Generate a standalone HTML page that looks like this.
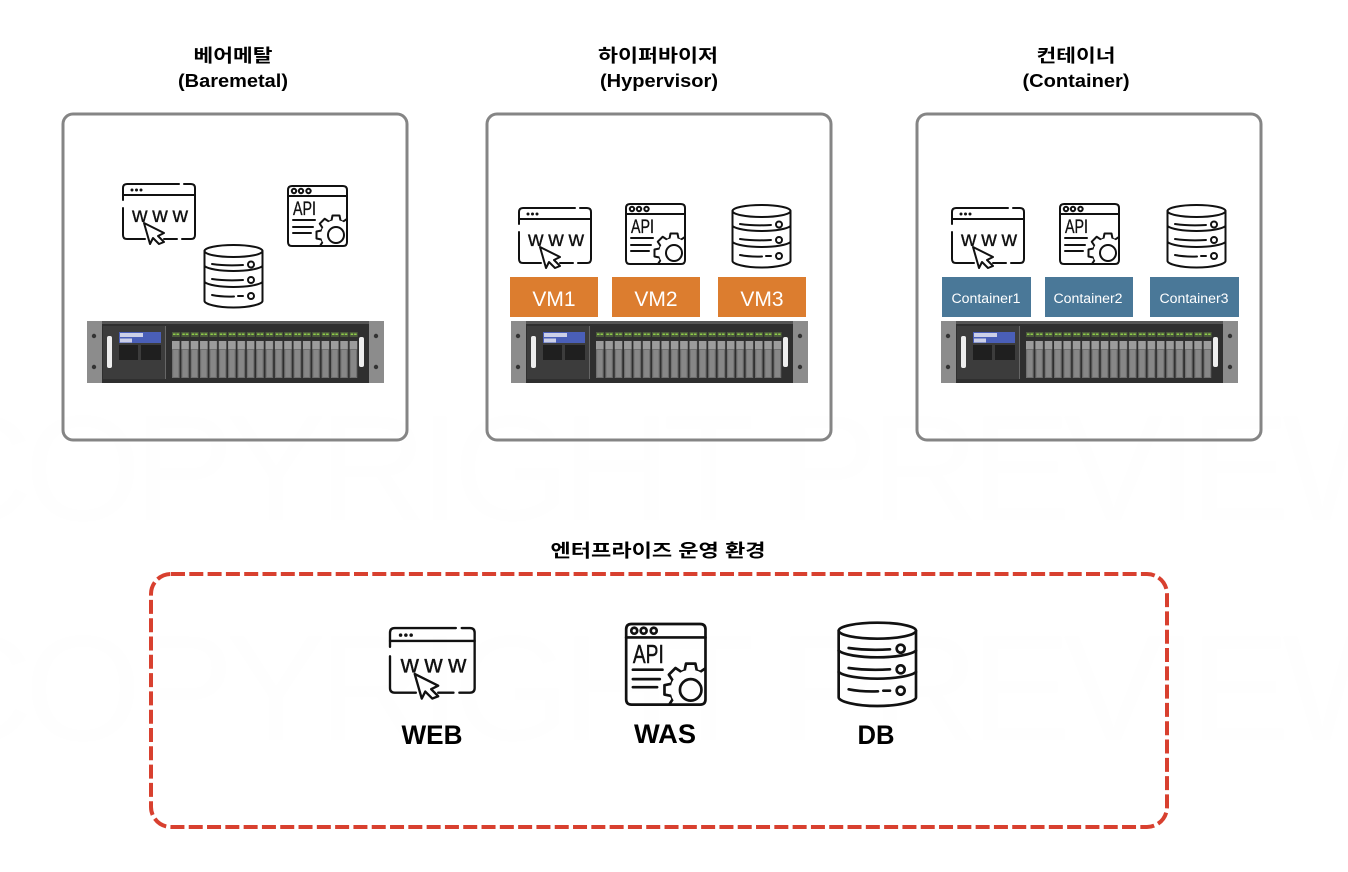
<!DOCTYPE html>
<html lang="ko">
<head>
<meta charset="utf-8">
<title>베어메탈, 하이퍼바이저, 컨테이너</title>
<style>
html,body{margin:0;padding:0;background:#fff}
svg{display:block}
text{font-family:"Liberation Sans","Noto Sans CJK KR",sans-serif}
.t{font-size:18px;font-weight:700;fill:#000;text-anchor:middle}
.b{font-size:27px;font-weight:700;fill:#000;text-anchor:middle}
.vm{font-size:21px;fill:#fff;text-anchor:middle}
.c{font-size:13.5px;fill:#fff;text-anchor:middle}
.wm{font-size:150px;font-weight:400;fill:#fefefe;text-anchor:middle}
</style>
</head>
<body>
<svg xmlns="http://www.w3.org/2000/svg" width="1348" height="872" viewBox="0 0 1348 872">
<defs>
<clipPath id="apiclip"><rect x="0" y="0" width="59" height="60" rx="4"/></clipPath>
<pattern id="drv" x="85" y="0" width="9.35" height="64" patternUnits="userSpaceOnUse">
  <rect x="0" y="11" width="8" height="5" fill="#4c5a3c"/>
  <rect x="1" y="12.5" width="2.5" height="1.5" fill="#8fce4a"/>
  <rect x="4.5" y="12.5" width="2.5" height="1.5" fill="#8fce4a"/>
  <rect x="0" y="20" width="7.6" height="8" fill="#9c9c9c"/>
  <rect x="0" y="28" width="7.6" height="29" fill="#707070"/>
  <rect x="1.2" y="29" width="5.2" height="27" fill="#878787"/>
</pattern>
<symbol id="server" viewBox="0 0 297 64" overflow="visible">
  <rect x="0" y="0" width="297" height="62" fill="#8c8c8c"/>
  <rect x="15" y="0" width="267" height="62" fill="#2f2f2f"/>
  <rect x="15" y="0" width="267" height="3" fill="#555"/>
  <rect x="16" y="5" width="62" height="53" fill="#3c3c3c"/>
  <rect x="78" y="5" width="1" height="53" fill="#666"/>
  <circle cx="7" cy="15" r="2.2" fill="#333"/><circle cx="7" cy="46" r="2.2" fill="#333"/>
  <circle cx="289" cy="15" r="2.2" fill="#333"/><circle cx="289" cy="46" r="2.2" fill="#333"/>
  <rect x="20" y="15" width="5" height="32" rx="2" fill="#eee"/>
  <rect x="32" y="11" width="42" height="11" fill="#4a5fb8"/>
  <rect x="33" y="12" width="23" height="4" fill="#ccd0e8"/>
  <rect x="33" y="17.5" width="12" height="4" fill="#ccd0e8"/>
  <rect x="32" y="24" width="19" height="15" fill="#1f1f1f"/>
  <rect x="54" y="24" width="20" height="15" fill="#1f1f1f"/>
  <rect x="85" y="10" width="187" height="48" fill="url(#drv)"/>
  <rect x="272" y="16" width="5" height="30" rx="2" fill="#eee"/>
</symbol>
<symbol id="web" viewBox="0 0 74 62" overflow="visible">
  <g fill="none" stroke="#111" stroke-width="2" stroke-linecap="round" stroke-linejoin="round">
    <path d="M0 16V4Q0 0 4 0H56M61 0H68Q72 0 72 4V51Q72 55 68 55H59M54 55H41M22 55H4Q0 55 0 51V24"/>
    <path d="M0 11H72"/>
  </g>
  <circle cx="9" cy="6" r="1.5" fill="#111"/><circle cx="13.5" cy="6" r="1.5" fill="#111"/><circle cx="18" cy="6" r="1.5" fill="#111"/>
  <text x="9" y="38" font-size="21.5" fill="#111" stroke="#111" stroke-width=".3" textLength="56" lengthAdjust="spacing">www</text>
  <path d="M21 39L41 49L35 52L41 58L36 60L30 54L27 60Z" fill="#fff" stroke="#111" stroke-width="2" stroke-linejoin="round"/>
</symbol>
<symbol id="api" viewBox="0 0 60 61" overflow="visible">
  <g fill="none" stroke="#111" stroke-width="2" stroke-linecap="round" stroke-linejoin="round">
    <g clip-path="url(#apiclip)">
      <g transform="translate(48 49)" fill="#fff">
        <circle r="15"/>
        <path d="M-4.5 -14.5L-3.5 -19.5H3.5L4.5 -14.5"/>
        <path d="M-4.5 -14.5L-3.5 -19.5H3.5L4.5 -14.5" transform="rotate(45)"/>
        <path d="M-4.5 -14.5L-3.5 -19.5H3.5L4.5 -14.5" transform="rotate(-45)"/>
        <path d="M-4.5 -14.5L-3.5 -19.5H3.5L4.5 -14.5" transform="rotate(-90)"/>
        <path d="M-4.5 -14.5L-3.5 -19.5H3.5L4.5 -14.5" transform="rotate(-135)"/>
        <path d="M-4.5 -14.5L-3.5 -19.5H3.5L4.5 -14.5" transform="rotate(180)"/>
        <circle r="15" fill="#fff" stroke="none"/>
        <circle r="8"/>
      </g>
    </g>
    <path d="M4 0H55Q59 0 59 4V56Q59 60 55 60H4Q0 60 0 56V4Q0 0 4 0Z"/>
    <path d="M0 10H59"/>
    <circle cx="6" cy="5" r="2.2"/><circle cx="13" cy="5" r="2.2"/><circle cx="20.5" cy="5" r="2.2"/>
    <path d="M5 34H27M5 41H25M5 47H23"/>
  </g>
  <text x="5" y="29" font-size="19.5" fill="#111" stroke="#111" stroke-width=".35" textLength="23" lengthAdjust="spacingAndGlyphs">API</text>
</symbol>
<symbol id="db" viewBox="0 0 60 64" overflow="visible">
  <g fill="none" stroke="#111" stroke-width="2" stroke-linecap="round" stroke-linejoin="round">
    <ellipse cx="29.5" cy="7" rx="29" ry="6"/>
    <path d="M.5 7V57C.5 60 13 63.5 29.5 63.5S58.5 60 58.5 57V7"/>
    <path d="M.5 22C4 25 16 27 29.5 27S55 25 58.5 22"/>
    <path d="M.5 38C4 41 16 43 29.5 43S55 41 58.5 38"/>
    <path d="M8 20Q22 22 39 21M8 35Q22 37 39 36M8 51Q18 53 30 52.5M34 52H39"/>
    <circle cx="47" cy="20.5" r="3"/><circle cx="47" cy="36" r="3"/><circle cx="47" cy="52" r="3"/>
  </g>
</symbol>
</defs>

<rect width="1348" height="872" fill="#fff"/>
<text class="wm" x="674" y="520" textLength="1500" lengthAdjust="spacing">COPYRIGHT PREVIEW</text>
<text class="wm" x="674" y="740" textLength="1500" lengthAdjust="spacing">COPYRIGHT PREVIEW</text>

<text class="t" x="233" y="62" textLength="79" lengthAdjust="spacingAndGlyphs">베어메탈</text>
<text class="t" x="233" y="87" textLength="110" lengthAdjust="spacingAndGlyphs">(Baremetal)</text>
<text class="t" x="658" y="62" textLength="120" lengthAdjust="spacingAndGlyphs">하이퍼바이저</text>
<text class="t" x="659" y="87" textLength="118" lengthAdjust="spacingAndGlyphs">(Hypervisor)</text>
<text class="t" x="1076" y="62" textLength="79" lengthAdjust="spacingAndGlyphs">컨테이너</text>
<text class="t" x="1076" y="87" textLength="107" lengthAdjust="spacingAndGlyphs">(Container)</text>

<g fill="none" stroke="#858585" stroke-width="3">
  <rect x="63" y="114" width="344" height="326" rx="10"/>
  <rect x="487" y="114" width="344" height="326" rx="10"/>
  <rect x="917" y="114" width="344" height="326" rx="10"/>
</g>

<use href="#web" x="123" y="184" width="74" height="62"/>
<use href="#api" x="288" y="186" width="60" height="61"/>
<use href="#db" x="204" y="244" width="60" height="64"/>
<use href="#server" x="87" y="321" width="297" height="64"/>

<use href="#web" x="519" y="208" width="74" height="62"/>
<use href="#api" x="626" y="204" width="60" height="61"/>
<use href="#db" x="732" y="204" width="60" height="64"/>
<g fill="#dc7d2f">
  <rect x="510" y="277" width="88" height="40"/>
  <rect x="612" y="277" width="88" height="40"/>
  <rect x="718" y="277" width="88" height="40"/>
</g>
<text class="vm" x="554" y="306">VM1</text>
<text class="vm" x="656" y="306">VM2</text>
<text class="vm" x="762" y="306">VM3</text>
<use href="#server" x="511" y="321" width="297" height="64"/>

<use href="#web" x="952" y="208" width="74" height="62"/>
<use href="#api" x="1060" y="204" width="60" height="61"/>
<use href="#db" x="1167" y="204" width="60" height="64"/>
<g fill="#4a7898">
  <rect x="942" y="277" width="89" height="40"/>
  <rect x="1045" y="277" width="88" height="40"/>
  <rect x="1150" y="277" width="89" height="40"/>
</g>
<text class="c" x="986" y="303" textLength="69" lengthAdjust="spacingAndGlyphs">Container1</text>
<text class="c" x="1088" y="303" textLength="69" lengthAdjust="spacingAndGlyphs">Container2</text>
<text class="c" x="1194" y="303" textLength="69" lengthAdjust="spacingAndGlyphs">Container3</text>
<use href="#server" x="941" y="321" width="297" height="64"/>

<text class="t" x="658" y="557" textLength="215" lengthAdjust="spacingAndGlyphs">엔터프라이즈 운영 환경</text>
<rect x="151" y="574" width="1016" height="253" rx="20" fill="none" stroke="#d8402f" stroke-width="4" stroke-dasharray="14 4.3"/>

<use href="#web" x="390" y="628" width="87" height="73"/>
<use href="#api" x="626" y="624" width="81" height="82"/>
<use href="#db" x="838" y="621" width="80" height="86"/>
<text class="b" x="432" y="744" textLength="61" lengthAdjust="spacingAndGlyphs">WEB</text>
<text class="b" x="665" y="743" textLength="62" lengthAdjust="spacingAndGlyphs">WAS</text>
<text class="b" x="876" y="744" textLength="37" lengthAdjust="spacingAndGlyphs">DB</text>
</svg>
</body>
</html>
